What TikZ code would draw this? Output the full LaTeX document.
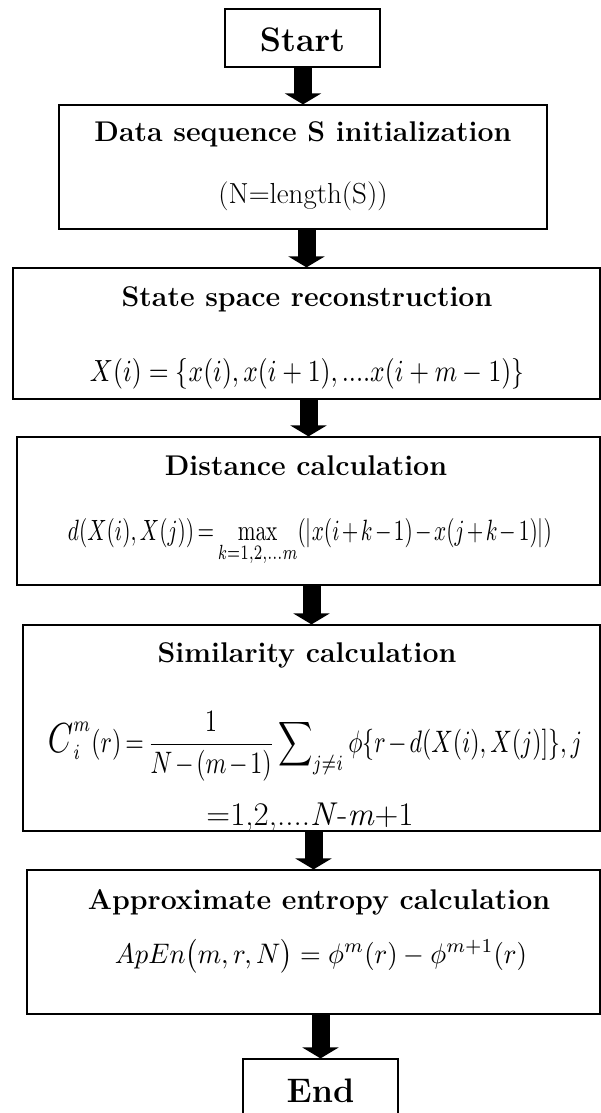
\documentclass[tikz,border=0pt]{standalone}
\usepackage{amsmath, amssymb}
\usepackage{graphicx}
\usetikzlibrary{arrows.meta}
\newcommand{\tightmath}{\medmuskip=2mu\relax\thickmuskip=3mu\relax}

\begin{document}
\begin{tikzpicture}[x=1pt, y=-1pt,
                stepbox/.style={draw, line width=1.2pt, inner sep=0pt},
                termtext/.style={anchor=base, font=\fontsize{34}{40}\selectfont\bfseries},
                titletext/.style={anchor=base, font=\fontsize{28.5}{34}\selectfont\bfseries},
                bodytext/.style={anchor=base, font=\fontsize{29}{35}\selectfont},
                mathtext/.style={anchor=base, inner sep=0pt},
                flow/.style={line width=18pt, -{Triangle[length=11pt, width=36pt]}}
            ]
                \useasboundingbox (0,0) rectangle (601,1113);

                % Boxes
                \node[stepbox, minimum width=155pt, minimum height=58pt] (start) at (302.5, 38) {};
                \node[stepbox, minimum width=488pt, minimum height=124pt] (data) at (303, 167) {};
                \node[stepbox, minimum width=587pt, minimum height=131pt] (state) at (306.5, 333.5) {};
                \node[stepbox, minimum width=583pt, minimum height=148pt] (dist) at (308.5, 511) {};
                \node[stepbox, minimum width=577pt, minimum height=206pt] (simil) at (311.5, 728) {};
                \node[stepbox, minimum width=573pt, minimum height=144pt] (apen) at (313.5, 942) {};
                \node[stepbox, minimum width=155pt, minimum height=66pt] (finish) at (320.5, 1092) {};

                % Texts
                \node[termtext] (startlbl) at (302.5, 52) {Start};
                \node[titletext] (datalbl) at (303, 141) {Data sequence S initialization};
                \node[bodytext] (datadef) at (303, 203) {(N=length(S))};
                \node[titletext] (statelbl) at (307, 306) {State space reconstruction};
                \node[mathtext] (statedef) at (307, 381) {\resizebox{434pt}{23pt}{$X(i)=\left\{x(i),x(i+1),....x(i+m-1)\right\}$}};
                \node[titletext] (distlbl) at (306, 475) {Distance calculation};
                \node[mathtext] (distdef) at (310, 540) {\resizebox{484pt}{22pt}{$\displaystyle\tightmath d(X(i),X(j))=\max_{k=1,2,...m}(|x(i+k-1)-x(j+k-1)|)$}};
                \node[titletext] (simillbl) at (307, 662) {Similarity calculation};
                \node[mathtext] (simildef) at (315, 752) {\resizebox{534pt}{41pt}{$\displaystyle\tightmath \scalebox{1.35}{$C$}_{i}^{m}(r)=\frac{1}{N-(m-1)}\sum\nolimits_{j\neq i}\phi\{r-d(X(i),X(j)]\},j$}};
                \node[bodytext, font=\fontsize{33}{38}\selectfont] (similrng) at (310, 825) {=1,2,....\textit{N}-\textit{m}+1};
                \node[titletext] (apenlbl) at (319, 909) {Approximate entropy calculation};
                \node[mathtext] (apendef) at (321, 963) {\resizebox{412pt}{24pt}{$ApEn\bigl(m,r,N\bigr)=\phi^{m}(r)-\phi^{m+1}(r)$}};
                \node[termtext] (finishlbl) at (320.5, 1102) {End};

                % Arrows
                \draw[flow] (start.south -| data.north) -- (data.north);
                \draw[flow] (data.south -| state.north) -- (state.north);
                \draw[flow] (state.south -| dist.north) -- (dist.north);
                \draw[flow] (dist.south -| simil.north) -- (simil.north);
                \draw[flow] (simil.south -| apen.north) -- (apen.north);
                \draw[flow] (apen.south -| finish.north) -- (finish.north);
            \end{tikzpicture}
\end{document}
